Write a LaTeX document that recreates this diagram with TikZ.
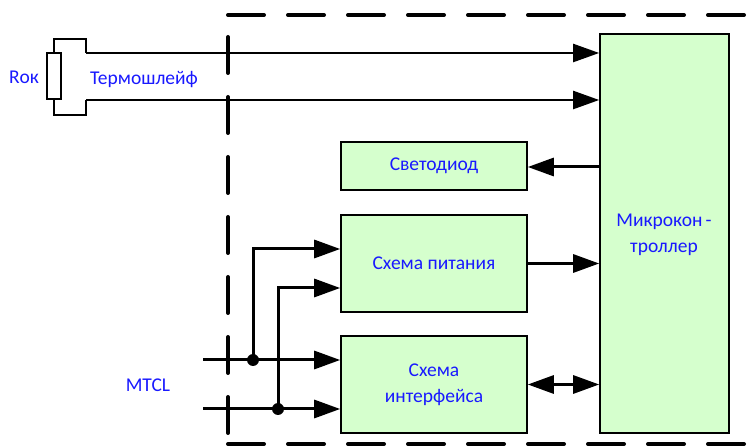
\documentclass[tikz,border=0pt]{standalone}
\usepackage{fontspec}
\setmainfont{Carlito}
\usetikzlibrary{arrows.meta}
\definecolor{boxgreen}{RGB}{213,255,205}
\definecolor{txtblue}{RGB}{25,25,255}
\begin{document}
\begin{tikzpicture}[x=1pt,y=-1pt,
  blockbox/.style={draw=black,line width=1.6pt,fill=boxgreen,inner sep=0pt,
     text=txtblue,font=\fontsize{19.5}{26}\selectfont,align=center},
  lbl/.style={text=txtblue,font=\fontsize{19.5}{26}\selectfont,inner sep=0pt},
  thinwire/.style={line width=2.2pt},
  wire/.style={line width=3pt},
  tip/.style={-{Triangle[length=26pt,width=18pt]}},
  dtip/.style={{Triangle[length=26pt,width=18pt]}-{Triangle[length=26pt,width=18pt]}},
  boundary/.style={line width=4pt,line cap=round,dash pattern=on 36pt off 24pt},
  junction/.style={circle,fill=black,inner sep=0pt,minimum size=12pt}]
\useasboundingbox (0,0) rectangle (748,446);
% boundary
\coordinate (c1) at (228,15);
\coordinate (c2) at (228,37);
\coordinate (c3) at (228,444);
\draw[boundary] (c1) -- (760,15);
\draw[boundary] (c2) -- (c3);
\draw[boundary] (c3) -- (760,444);
% blocks
\node[blockbox,minimum width=129pt,minimum height=399pt] (mcu) at (664.5,233.5) {};
\node[lbl,align=center] (mcut) at (664,235) {Микрокон\hspace{3pt}-\\троллер};
\node[blockbox,minimum width=186pt,minimum height=48pt] (led) at (434,166) {Светодиод};
\node[blockbox,minimum width=186pt,minimum height=97pt] (pwr) at (434,263.5) {Схема питания};
\node[blockbox,minimum width=186pt,minimum height=97pt] (ifc) at (434,384.5) {Схема\\интерфейса};
% resistor
\node[draw=black,line width=1.6pt,fill=white,minimum width=14pt,minimum height=46pt,inner sep=0pt] (r) at (54,76) {};
\node[lbl] (rok) at (24,77) {Rок};
\node[lbl] (thl) at (144,80) {Термошлейф};
\coordinate (t1) at (86,53);
\coordinate (t2) at (86,100);
\draw[thinwire] (r.north) -- (54,39) -- (86,39) -- (t1);
\draw[thinwire] (r.south) -- (54,115) -- (86,115) -- (t2);
\draw[thinwire,tip] (t1) -- (t1 -| mcu.west);
\draw[thinwire,tip] (t2) -- (t2 -| mcu.west);
% mcu links
\coordinate (l1) at (600,167);
\draw[wire,tip] (l1) -- (l1 -| led.east);
\draw[wire,tip] (pwr.east) -- (pwr.east -| mcu.west);
\draw[wire,dtip] (ifc.east) -- (ifc.east -| mcu.west);
% inputs
\coordinate (in1) at (203,360);
\coordinate (in2) at (203,409);
\node[lbl] (mtcl) at (148,385) {MTCL};
\draw[wire,tip] (in1) -- (in1 -| ifc.west);
\draw[wire,tip] (in2) -- (in2 -| ifc.west);
\node[junction] (j1) at (253,360) {};
\node[junction] (j2) at (278,409) {};
\draw[wire,tip] (j1.center) |- ([yshift=14.5pt]pwr.west);
\draw[wire,tip] (j2.center) |- ([yshift=-24.5pt]pwr.west);
\end{tikzpicture}
\end{document}
